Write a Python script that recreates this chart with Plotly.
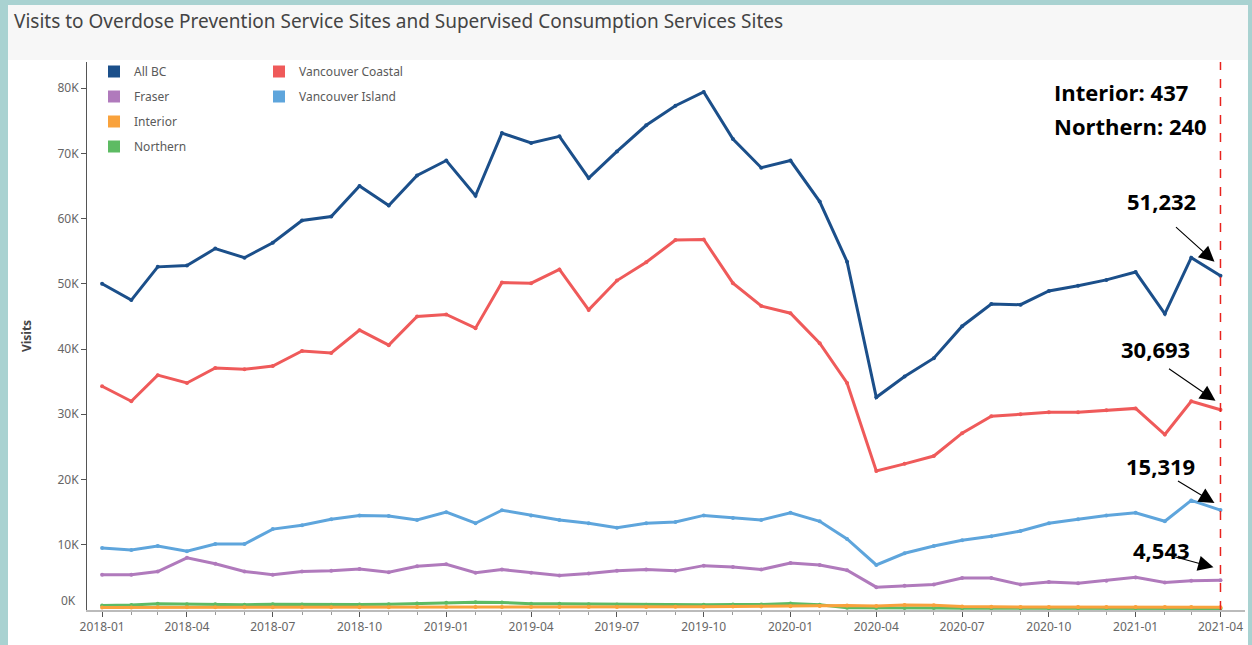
import plotly.graph_objects as go

months = [
    "2018-01-01", "2018-02-01", "2018-03-01", "2018-04-01", "2018-05-01", "2018-06-01",
    "2018-07-01", "2018-08-01", "2018-09-01", "2018-10-01", "2018-11-01", "2018-12-01",
    "2019-01-01", "2019-02-01", "2019-03-01", "2019-04-01", "2019-05-01", "2019-06-01",
    "2019-07-01", "2019-08-01", "2019-09-01", "2019-10-01", "2019-11-01", "2019-12-01",
    "2020-01-01", "2020-02-01", "2020-03-01", "2020-04-01", "2020-05-01", "2020-06-01",
    "2020-07-01", "2020-08-01", "2020-09-01", "2020-10-01", "2020-11-01", "2020-12-01",
    "2021-01-01", "2021-02-01", "2021-03-01", "2021-04-01",
]

all_bc = [50000, 47500, 52600, 52800, 55400, 54000, 56300, 59700, 60300, 65000,
          62000, 66600, 68900, 63500, 73100, 71600, 72600, 66200, 70300, 74300,
          77300, 79400, 72200, 67800, 68900, 62600, 53400, 32600, 35800, 38600,
          43500, 46900, 46800, 48900, 49700, 50600, 51800, 45400, 54000, 51232]

van_coastal = [34300, 32000, 36000, 34800, 37100, 36900, 37400, 39700, 39400, 42900,
               40600, 45000, 45300, 43200, 50200, 50100, 52200, 46000, 50500, 53300,
               56700, 56800, 50100, 46600, 45500, 40900, 34800, 21300, 22400, 23600,
               27100, 29700, 30000, 30300, 30300, 30600, 30900, 26900, 32000, 30693]

van_island = [9500, 9200, 9800, 9000, 10100, 10100, 12400, 13000, 13900, 14500,
              14400, 13800, 15000, 13300, 15300, 14500, 13800, 13300, 12600, 13300,
              13500, 14500, 14100, 13800, 14900, 13600, 10900, 6900, 8700, 9800,
              10700, 11300, 12100, 13300, 13900, 14500, 14900, 13600, 16800, 15319]

fraser = [5400, 5400, 5900, 8000, 7100, 5900, 5400, 5900, 6000, 6300,
          5800, 6700, 7000, 5700, 6200, 5700, 5300, 5600, 6000, 6200,
          6000, 6800, 6600, 6200, 7200, 6900, 6100, 3500, 3700, 3900,
          4900, 4900, 3900, 4300, 4100, 4500, 5000, 4200, 4500, 4543]

interior = [400, 400, 420, 420, 420, 420, 430, 430, 430, 430,
            440, 450, 460, 460, 460, 450, 450, 450, 460, 470,
            480, 500, 520, 540, 560, 600, 700, 600, 760, 740,
            520, 480, 470, 470, 460, 460, 460, 450, 450, 437]

northern = [700, 750, 950, 900, 900, 800, 900, 850, 800, 850,
            900, 1000, 1100, 1200, 1150, 950, 950, 900, 850, 800,
            750, 800, 850, 850, 1000, 800, 350, 300, 320, 300,
            280, 280, 270, 270, 260, 260, 260, 250, 250, 240]

series = [
    ("All BC", all_bc, "#1b4f8a"),
    ("Vancouver Coastal", van_coastal, "#ef5a5a"),
    ("Fraser", fraser, "#b07abc"),
    ("Vancouver Island", van_island, "#5ea5dc"),
    ("Interior", interior, "#f9a23c"),
    ("Northern", northern, "#5dbb63"),
]

legend_cols = {
    "All BC": "legend", "Fraser": "legend", "Interior": "legend", "Northern": "legend",
    "Vancouver Coastal": "legend2", "Vancouver Island": "legend2",
}
legend_order = ["All BC", "Fraser", "Interior", "Northern", "Vancouver Coastal", "Vancouver Island"]

last_labels = [("51,232", all_bc), ("30,693", van_coastal), ("15,319", van_island), ("4,543", fraser)]

fig = go.Figure()

# bottom series first so the big ones sit on top
for name, vals, col in reversed(series):
    fig.add_trace(go.Scatter(
        x=months, y=vals, mode="lines+markers", name=name,
        line=dict(color=col, width=3), marker=dict(color=col, size=4),
        showlegend=False, cliponaxis=False,
    ))

colors = {n: c for n, _, c in series}
for i, name in enumerate(legend_order):
    fig.add_trace(go.Scatter(
        x=[None], y=[None], mode="markers", name=name,
        marker=dict(symbol="square", size=12, color=colors[name]),
        legend=legend_cols[name], legendgroup=name, legendrank=i,
    ))

# page pieces: grey title band and white chart card over the teal frame
W, H = 1252, 645
L, R, T, B = 87, 7, 62, 35
pw, ph = W - L - R, H - T - B


def px(x):
    return (x - L) / pw


def py(y):
    return (H - B - y) / ph


fig.add_shape(type="rect", xref="paper", yref="paper", x0=px(8), x1=px(1248),
              y0=py(60), y1=py(5), fillcolor="#f7f7f7", line_width=0, layer="below")
fig.add_shape(type="rect", xref="paper", yref="paper", x0=px(8), x1=px(1248),
              y0=py(646), y1=py(60), fillcolor="white", line_width=0, layer="below")

fig.add_shape(type="line", xref="x", yref="paper", x0=months[-1], x1=months[-1],
              y0=0, y1=1, line=dict(color="#e8231e", width=1.5, dash="dash"))

fig.add_annotation(xref="paper", yref="paper", x=px(12), y=py(21), xanchor="left",
                   yanchor="middle", showarrow=False,
                   text="Visits to Overdose Prevention Service Sites and Supervised Consumption Services Sites",
                   font=dict(family="Noto Sans", size=19, color="#444444"))

fig.add_annotation(xref="paper", yref="paper", x=px(78), y=py(600), xanchor="right",
                   yanchor="middle", showarrow=False, text="0K",
                   font=dict(family="Noto Sans", size=12, color="#666666"))

fig.add_annotation(xref="paper", yref="paper", x=px(1052), y=py(92), xanchor="left",
                   yanchor="middle", showarrow=False, text="Interior: 437",
                   font=dict(family="Open Sans", size=22, color="black", weight="bold"))
fig.add_annotation(xref="paper", yref="paper", x=px(1052), y=py(126), xanchor="left",
                   yanchor="middle", showarrow=False, text="Northern: 240",
                   font=dict(family="Open Sans", size=22, color="black", weight="bold"))

# (xshift, yshift) of text, (xshift, yshift, ax, ay) of arrow
text_pos = [(-59, 75), (-65, 61), (-60, 44), (-59, 30)]
arrow_pos = [(-6, 14, -40, -36), (-5, 9, -48, -33), (-6, 7, -38, -23), (-7, 13, -44, -12)]
for (lab, vals), (tx, ty), (ax_, ay_, ax, ay) in zip(last_labels, text_pos, arrow_pos):
    fig.add_annotation(x=months[-1], y=vals[-1], xshift=tx, yshift=ty, showarrow=False,
                       text=lab, font=dict(family="Open Sans", size=22, color="black", weight="bold"))
    fig.add_annotation(x=months[-1], y=vals[-1], xshift=ax_, yshift=ay_, text="",
                       showarrow=True, arrowhead=2, arrowsize=2.8, arrowwidth=1.1,
                       arrowcolor="black", ax=ax, ay=ay, standoff=0)

fig.update_layout(
    width=W, height=H,
    margin=dict(l=L, r=R, t=T, b=B),
    paper_bgcolor="#a9d2d1", plot_bgcolor="white",
    font=dict(family="Noto Sans", size=12, color="#666666"),
    legend=dict(x=px(94), y=py(57), xanchor="left", yanchor="top", bgcolor="rgba(0,0,0,0)",
                font=dict(size=12, color="#5a5a5a"), tracegroupgap=6, itemclick=False),
    legend2=dict(x=px(259), y=py(57), xanchor="left", yanchor="top", bgcolor="rgba(0,0,0,0)",
                 font=dict(size=12, color="#5a5a5a"), tracegroupgap=6, itemclick=False),
)

fig.update_xaxes(
    type="date", range=["2017-12-16", "2021-04-27"],
    tick0="2018-01-01", dtick="M3", tickformat="%Y-%m",
    ticks="outside", ticklen=5, tickcolor="#555555",
    minor=dict(dtick="M1", ticks="outside", ticklen=3, tickcolor="#999999"),
    showline=True, linecolor="#bbbbbb", linewidth=2, showgrid=False, zeroline=False,
    tickfont=dict(size=12, color="#666666"),
)
fig.update_yaxes(
    range=[0, 84000], tickvals=[10000, 20000, 30000, 40000, 50000, 60000, 70000, 80000],
    ticktext=["10K", "20K", "30K", "40K", "50K", "60K", "70K", "80K"],
    ticks="outside", ticklen=5, tickcolor="#555555",
    showline=True, linecolor="#555555", linewidth=1, showgrid=False, zeroline=False,
    title=dict(text="<b>Visits</b>", standoff=23, font=dict(size=12, color="#444444")),
    tickfont=dict(size=12, color="#666666"),
)

# drop the page's default body margin so the figure sits at the window origin
fig.write_html("out.html", config={"displayModeBar": False},
               post_script="document.body.style.margin='0';"
                           "document.body.style.overflow='hidden';")
